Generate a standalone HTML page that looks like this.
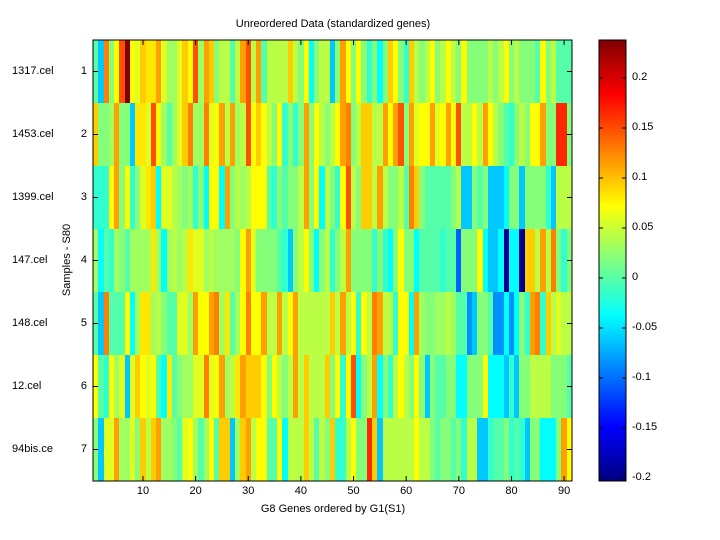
<!DOCTYPE html>
<html><head><meta charset="utf-8"><style>
body{margin:0;background:#fff;width:720px;height:540px;overflow:hidden;position:relative;font-family:"Liberation Sans",sans-serif;font-size:11px;color:#000}
.t{position:absolute;white-space:nowrap}
</style></head><body>
<svg id="s" width="720" height="540" style="position:absolute;left:0;top:0">
<defs><linearGradient id="jet" x1="0" y1="0" x2="0" y2="1">
<stop offset="0" stop-color="#800000"/><stop offset="0.125" stop-color="#ff0000"/>
<stop offset="0.375" stop-color="#ffff00"/><stop offset="0.625" stop-color="#00ffff"/>
<stop offset="0.875" stop-color="#0000ff"/><stop offset="1" stop-color="#000080"/></linearGradient></defs>
<g id="hm"></g>
<rect x="93" y="40" width="479" height="441" fill="none" stroke="#000" stroke-width="1"/>
<rect x="599" y="40" width="27" height="441" fill="url(#jet)" stroke="#000"/>
<g id="tk" stroke="#000" stroke-width="1"></g>
</svg>
<div class="t" style="left:0;width:666px;top:18px;text-align:center">Unreordered Data (standardized genes)</div>
<div class="t" style="left:0;width:666px;top:503px;text-align:center">G8 Genes ordered by G1(S1)</div>
<div class="t" style="left:18px;top:253px;transform:rotate(-90deg);transform-origin:50px 7px;width:100px;text-align:center">Samples - S80</div>
<div id="lb"></div>
<script>
var C={a:'#000090',b:'#0060ff',B:'#0090ff',c:'#00c8ff',C:'#00ffff',t:'#30ffd0',q:'#55ffaa',g:'#85ff7a',h:'#a0ff60',l:'#baff45',e:'#e0ff20',y:'#ffff00',Y:'#ffe800',d:'#ffcc00',o:'#ffa000',O:'#ff8000',r:'#ff5000',R:'#ff2800',k:'#800000'};
var L=[
"qcOgyrkyedYYoehhedyrhodgllqlor"+"gloqlllldlgyCgllcgoygygtgCgdygt".slice(1)+"dlglyglylgygggglglyglgggqyglqqq",
"dgghoggcYYeryhqhedOhhOeyolohlr"+"yydylgytgtgogylglyoOglddlloyorg".slice(1)+"oeyyoeyoyrllyloylgqtglgyyoggRR",
"ttttyogytgeYdCeelhghtgCyyCoglhl".slice(1)+"yyyyqtgqgglogyClgtyrlgddlolgglq".slice(1)+"OdgqqqqqglccgqgcccCggcggggtclll",
"hCqthgqhhhhYhCrlhlYeehlhhhhgyo".replace('r','h')+"geggggqtcglygCgltgloggggtgtCgygtg".slice(0,31).slice(1)+"gCqqqqtqqbgggyCccCaCCaddlolOgt",
"qcOqqqyChYYhlgqqeehoyyoOhYqhyO"+"yyyollolyolllllldloly tylOollt yyC".replace(/ /g,'').slice(1)+"ohgghhlhqqBcggqBBCBCgtoOtdlell",
"yqtyheceyeyqCYqghheeOeyohlYod".replace('ceye','cedye')+"oddygylgloldllldgytyrCgloCgtlylg".slice(1)+"ygcgqqggCCgggyCCCctcggllllgggqod",
"gceeohheg dldohhgqeyhqhyqddchdo".replace(' ','')+"llyyqqyCllldlqlgdttlyggRdcllllll".slice(1)+"yllgqggqgtllcctqqgtqtcggCCCgoy"];
var s='',x0=93,w=479/91,y0=40,h=441/7;
for(var r=0;r<7;r++){var row=L[r];for(var i=0;i<91;i++){var ch=row[i]||'g';var xa=Math.round(x0+i*w),xb=Math.round(x0+(i+1)*w);
s+='<rect x="'+xa+'" y="'+Math.round(y0+r*h)+'" width="'+(xb-xa)+'" height="'+(Math.round(y0+(r+1)*h)-Math.round(y0+r*h))+'" fill="'+(C[ch]||'#85ff7a')+'"/>';}}
document.getElementById('hm').innerHTML=s;
var tk='',lb='';
for(var v=10;v<=90;v+=10){var X=x0+(v-0.5)*w;tk+='<line x1="'+X+'" y1="481" x2="'+X+'" y2="476"/><line x1="'+X+'" y1="40" x2="'+X+'" y2="45"/>';
lb+='<div class="t" style="left:'+(X-20)+'px;width:40px;text-align:center;top:485px">'+v+'</div>';}
var names=['1317.cel','1453.cel','1399.cel','147.cel','148.cel','12.cel','94bis.ce'];
for(var r=0;r<7;r++){var Y=y0+(r+0.5)*h;tk+='<line x1="93" y1="'+Y+'" x2="98" y2="'+Y+'"/><line x1="572" y1="'+Y+'" x2="567" y2="'+Y+'"/>';
lb+='<div class="t" style="left:60px;width:27px;text-align:right;top:'+(Y-7)+'px">'+(r+1)+'</div>';
lb+='<div class="t" style="left:12px;top:'+(Y-7)+'px">'+names[r]+'</div>';}
var cv=['0.2','0.15','0.1','0.05','0','-0.05','-0.1','-0.15','-0.2'];
for(var k=0;k<9;k++){var Y=78+k*50;tk+='<line x1="626" y1="'+Y+'" x2="622" y2="'+Y+'"/><line x1="599" y1="'+Y+'" x2="603" y2="'+Y+'"/>';
lb+='<div class="t" style="left:632px;top:'+(Y-7)+'px">'+cv[k]+'</div>';}
document.getElementById('tk').innerHTML=tk;document.getElementById('lb').innerHTML=lb;
</script>
</body></html>
